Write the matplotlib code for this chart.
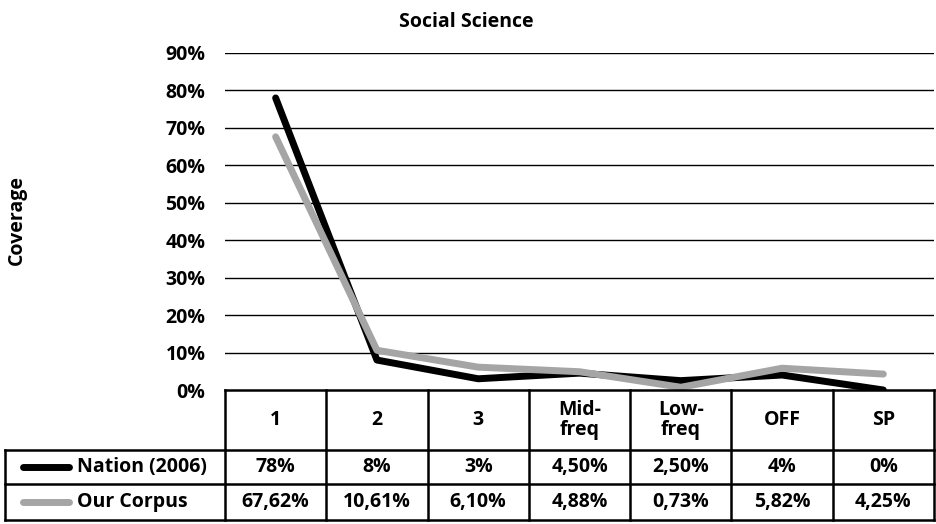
import numpy as np
import matplotlib
matplotlib.use('Agg')
import matplotlib.pyplot as plt

# categories and coverage values (%)
categories = ['1', '2', '3', 'Mid-\nfreq', 'Low-\nfreq', 'OFF', 'SP']
series_names = ['Nation (2006)', 'Our Corpus']
nation = [78, 8, 3, 4.5, 2.5, 4, 0]
corpus = [67.62, 10.61, 6.10, 4.88, 0.73, 5.82, 4.25]
nation_labels = ['78%', '8%', '3%', '4,50%', '2,50%', '4%', '0%']
corpus_labels = ['67,62%', '10,61%', '6,10%', '4,88%', '0,73%', '5,82%', '4,25%']
yticks = [0, 10, 20, 30, 40, 50, 60, 70, 80, 90]

colors = ['#000000', '#A5A5A5']

plt.rcParams['font.family'] = ['Open Sans', 'DejaVu Sans']
plt.rcParams['font.weight'] = 'bold'
FS = 14

W, H = 936, 524
fig = plt.figure(figsize=(W / 100, H / 100), dpi=100)

def fx(x):
    return x / W

def fy(y):
    return 1 - y / H

# plot area in pixels
left, right, top, bottom = 225, 934, 53, 390
ax = fig.add_axes([fx(left), fy(bottom), fx(right - left), (bottom - top) / H])
n = len(categories)
x = np.arange(n)
ax.set_xlim(-0.5, n - 0.5)
ax.set_ylim(0, 90)
for t in yticks[1:]:
    ax.axhline(t, color='black', lw=1.0, zorder=1)
ax.plot(x, nation, color=colors[0], lw=5, solid_capstyle='round',
        solid_joinstyle='round', zorder=3)
ax.plot(x, corpus, color=colors[1], lw=5, solid_capstyle='round',
        solid_joinstyle='round', zorder=4)
for s in ax.spines.values():
    s.set_visible(False)
ax.set_xticks([])
ax.set_yticks(yticks)
ax.set_yticklabels([f'{t}%' for t in yticks], fontsize=FS, fontweight='bold')
ax.tick_params(axis='y', length=0, pad=14)

fig.text(fx(466), fy(22), 'Social Science', ha='center', va='center',
         fontsize=FS, fontweight='bold')
fig.text(fx(17), fy(220), 'Coverage', ha='center', va='center', rotation=90,
         fontsize=FS, fontweight='bold')

# data table under the chart
tab_left, tab_bottom = 5, 520
rows = [390, 450, 484, 520]
unit = (right - left) / n
tax = fig.add_axes([fx(tab_left), fy(tab_bottom), fx(right - tab_left), (tab_bottom - bottom) / H])
tax.set_xlim(-0.5 - (left - tab_left) / unit, n - 0.5)
tax.set_ylim(tab_bottom, bottom)
tax.axis('off')
x0 = -0.5 - (left - tab_left) / unit
lw = 1.8
tax.plot([-0.5, n - 0.5], [rows[0], rows[0]], color='black', lw=lw, clip_on=False)
for r in rows[1:]:
    tax.plot([x0, n - 0.5], [r, r], color='black', lw=lw, clip_on=False)
for i in range(n + 1):
    tax.plot([i - 0.5, i - 0.5], [rows[0], rows[-1]], color='black', lw=lw, clip_on=False)
tax.plot([x0, x0], [rows[1], rows[-1]], color='black', lw=lw, clip_on=False)

for i, c in enumerate(categories):
    tax.text(i, (rows[0] + rows[1]) / 2, c, ha='center', va='center',
             fontsize=FS, fontweight='bold', linespacing=1.0)
for row, (name, labels, col) in enumerate(zip(series_names, [nation_labels, corpus_labels], colors)):
    yc = (rows[row + 1] + rows[row + 2]) / 2
    for i, lab in enumerate(labels):
        tax.text(i, yc, lab, ha='center', va='center', fontsize=FS, fontweight='bold')
    lx0 = x0 + 18 / unit
    lx1 = x0 + 64 / unit
    tax.plot([lx0, lx1], [yc, yc], color=col, lw=5, solid_capstyle='round')
    tax.text(x0 + 72 / unit, yc, name, ha='left', va='center', fontsize=FS,
             fontweight='bold')

fig.savefig('out.png', dpi=100)
